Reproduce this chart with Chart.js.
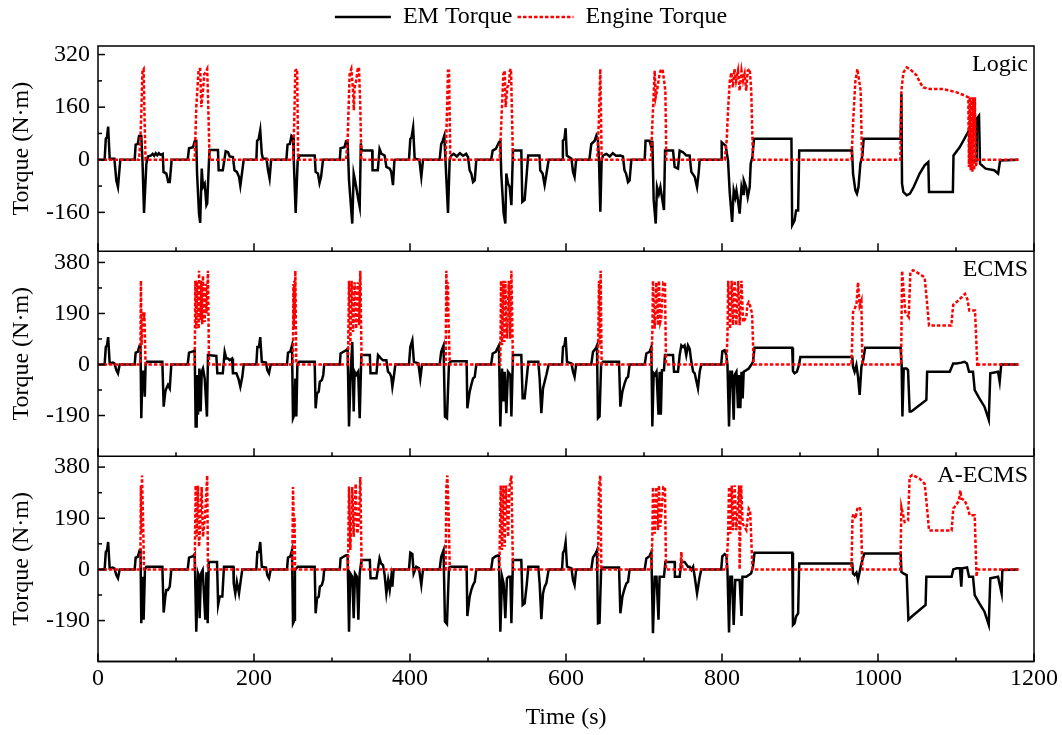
<!DOCTYPE html>
<html>
<head>
<meta charset="utf-8">
<script src="https://cdn.jsdelivr.net/npm/chart.js@4.4.1/dist/chart.umd.min.js"></script>
<style>
    html, body { margin: 0; padding: 0; background: #fff; }
    #wrap { width: 1062px; height: 735px; }
</style>
</head>
<body>
<div id="wrap"><canvas id="chart" width="1062" height="735"></canvas></div>
<script>
// Axis ticks and labels
const timeTicks = [0, 200, 400, 600, 800, 1000, 1200];
const logicTicks = [-160, 0, 160, 320];
const ecmsTicks = [-190, 0, 190, 380];
const panelNames = ['Logic', 'ECMS', 'A-ECMS'];
const seriesNames = ['EM Torque', 'Engine Torque'];

// Logic strategy: [time s, torque N·m]
const logicEm = [
    [0,0],[8.5,0],[10,64],[11.5,69],[13,101],[15,3],[21,3],[23.5,-63],[25.6,-83],[28.6,0],
    [47,0],[48.3,46],[51,48],[52.6,72],[55.5,72],[57,-2],[59,-162],[62,-12],[64,10],[68,13],[70,18],[72,12],[74,20],[76,14],[78,20],[80,15],[83,18],[84,-37],[87.6,-42],[90,-68],[92,-68],[94.4,0],
    [115,0],[116.7,35],[121.8,38],[124,56],[126,57],[127,-42],[129.5,-164],[131,-192],[133,-27],[134.6,-83],[136.8,-73],[139,-138],[140,-133],[142.3,-2],[143,30],[153.8,30],[154.7,-32],[160,-32],[163.7,26],[166.7,23],[168.8,10],[173,8],[175,-32],[178,-37],[180.8,-52],[182.5,-79],[184,-52],[186.8,0],
    [203,0],[204,58],[206,63],[208,90],[210,18],[211.5,3],[216,3],[218,-32],[220,-57],[222,0],
    [241.5,0],[243,46],[246,48],[248,73],[250,68],[251,-2],[253.4,-162],[256,-2],[258.5,13],[277.8,13],[279,-37],[282,-42],[284,-71],[286,-52],[288.5,0],
    [310,0],[311,35],[316,38],[318,56],[320,56],[321.8,-62],[326,-194],[327.8,-42],[329.5,-62],[331,-83],[333.8,-122],[335.5,-143],[337,50],[338,28],[351.5,28],[352,-32],[358.7,-32],[361,33],[363.5,18],[367.5,13],[369.7,-22],[374,-27],[376,-37],[378.2,-77],[380,-2],[381,0],
    [398.7,0],[400.4,63],[402,68],[404,98],[406,3],[412,0],[414.5,-52],[416.7,0],
    [438,0],[440,48],[442,58],[444,73],[445.5,-2],[448.7,-162],[450.9,3],[453,13],[456,18],[460,10],[464,20],[468,12],[472,18],[474.4,8],[476.5,-32],[478.6,-42],[480.8,-68],[483,-63],[485,0],
    [504,0],[506,28],[510,33],[514,53],[515.8,58],[517,-42],[520,-162],[522.2,-194],[523.5,-42],[525.6,-72],[527.8,-83],[530,-138],[532,28],[542.7,28],[544,-128],[547,-122],[550,-32],[551.5,13],[566,13],[567,-32],[570,-42],[572.6,-77],[575,-42],[577.8,0],
    [594.9,0],[596,58],[598,63],[599.5,96],[601,13],[607,3],[609,-37],[611,-52],[613,0],
    [630,0],[632.4,48],[636.8,58],[638.9,73],[641,58],[642.3,-2],[644,-158],[645.7,-2],[647.4,13],[652,18],[656,10],[660,20],[664,12],[670,13],[673,10],[675,-32],[677,-42],[679.5,-68],[681.5,-63],[683.8,0],
    [700.9,0],[702,58],[707,58],[709.4,38],[710.7,58],[712.4,-122],[715,-194],[716.7,-83],[719,-104],[721,-83],[723,-114],[725.6,-153],[727,28],[737.2,28],[739.3,-22],[743.6,-27],[745.7,28],[750,23],[754.2,13],[758.5,13],[760.7,-37],[765,-52],[768,-83],[770,-42],[771.4,0],
    [799,0],[799.6,53],[802,48],[804.7,43],[807.7,-2],[810,-103],[813,-189],[815,-93],[817,-114],[818.5,-93],[820.5,-124],[822.6,-164],[825,-83],[827,-104],[828,-63],[831,-83],[833,-114],[835.5,-83],[836.8,-12],[839,8],[841,64],
    [889,64],[890,-199],[893,-185],[895,-154],[897.6,-154],[899,28],[966.7,28],[968,-42],[971,-93],[973,-103],[975,-83],[977.4,-12],[980,13],[981.6,64],
    [1029,64],[1030,200],[1030.8,-73],[1032.5,-98],[1036.8,-108],[1041,-103],[1045.7,-83],[1053.4,-42],[1059.8,-17],[1064.5,-7],[1065.4,-98],[1096,-98],[1096.8,13],[1104.7,38],[1115.4,84],[1116.6,99],[1118,-2],[1125.8,-2],[1126.5,124],[1129.5,134],[1130.8,-12],[1138,-27],[1149,-32],[1154,-42],[1156.6,-2],[1180,0]
];
const logicEngine = [
    [0,0],[52.6,0],[54.3,58],[55.6,150],[57,271],[58.5,276],[59.8,110],[61,0],
    [124,0],[126,160],[129,276],[131,276],[132.5,160],[134.6,210],[136.3,261],[138,266],[140,276],[141.4,160],[143,0],
    [250,0],[251.5,110],[253,271],[255.3,276],[256.6,0],
    [318,0],[320,58],[322.6,261],[324.8,276],[327,210],[328,150],[329,220],[331,240],[333,276],[334.5,281],[336.3,160],[337.6,0],
    [445.7,0],[447,110],[448.7,271],[450,271],[451.7,0],
    [515,0],[517,110],[519.7,261],[521.5,271],[522.6,160],[524.8,220],[527,230],[528,271],[529.5,276],[532,0],
    [640,0],[642,110],[644,276],[645.7,0],
    [709,0],[710.7,110],[713.7,271],[715,190],[716.7,210],[720,261],[722,276],[724,271],[727.4,210],[728.6,0],
    [803.4,0],[806,58],[807.7,150],[810,240],[812,265],[814,220],[816,276],[818,240],[820.5,271],[822.6,210],[825,271],[827,240],[829,261],[831,210],[833,271],[835.5,276],[837.5,210],[839.7,0],
    [966,0],[968,110],[971,240],[973.6,276],[976.5,230],[977.8,210],[979.5,0],
    [1028.6,0],[1030,210],[1032.5,265],[1036.8,281],[1041,276],[1045.3,266],[1049.6,256],[1053.8,235],[1058,220],[1066.7,215],[1083.8,215],[1092.3,210],[1100.9,205],[1111.5,195],[1115.8,190],
    [1116.6,-22],[1117.5,190],[1118.8,-32],[1119.7,190],[1121,-37],[1122,190],[1123.3,-32],[1124.2,190],[1125.5,-22],[1126.9,0],[1180,0]
];

// ECMS strategy
const ecmsEm = [
    [0,0],[8.5,0],[10,65],[11.5,71],[13,102],[15,4],[19,7],[21,4],[23.5,-21],[25.6,-33],[27.8,0],
    [47,0],[48.3,44],[51,47],[53.4,71],[54.5,71],[55.5,-200],[57,-27],[58.5,-27],[60,-120],[61,0],[62.8,10],[82.5,10],[84.2,-157],[86.3,-101],[87.6,-89],[89.7,-76],[92,-89],[94,0],
    [115,0],[116.7,44],[121.8,49],[124,53],[125.2,-231],[126.5,-231],[127,-39],[128.2,-187],[130,-15],[131.6,-175],[133,-27],[134.6,-15],[136.8,-52],[139.7,-194],[141,35],[151.7,32],[153,-33],[160,-33],[162.4,47],[164.5,22],[166.7,22],[168.8,16],[171.8,22],[173,-33],[177.4,-33],[180,-52],[182.5,-83],[185,-46],[186.8,0],
    [203,0],[204.3,65],[206.4,65],[208,102],[210,10],[215.4,7],[217,-21],[219.2,-33],[221.4,0],
    [242.3,0],[243.6,44],[246.6,49],[248.7,71],[250,-200],[251.7,-187],[253,-52],[254.3,-194],[255.6,0],[257.7,10],[277.8,10],[279,-163],[280.8,-107],[283,-101],[284.4,-64],[287,-58],[288.8,-39],[290,0],
    [310,0],[311,41],[318,53],[320,59],[321.8,-231],[324,-27],[326,84],[327.8,-175],[329,-27],[331,-39],[333.5,-27],[335.5,-200],[337.6,35],[348.5,35],[349.4,-33],[357,-33],[359,35],[363,22],[365.4,16],[369.7,16],[371.8,-27],[374,-33],[376,-46],[377.4,-83],[379,-52],[381.2,0],
    [398.7,0],[400.4,65],[403,90],[405,10],[410.7,4],[413.2,-52],[415.4,0],
    [438,0],[440,47],[443,71],[444.8,-194],[447.4,-200],[450,4],[453,12],[472.6,12],[473.5,-163],[476.5,-101],[478.6,-76],[480.8,-52],[483,-46],[485,0],
    [504,0],[506,41],[510,47],[514,71],[515.8,-231],[518,-15],[520,-138],[521.4,-27],[523.5,-181],[525.6,-27],[528.6,-39],[530,-194],[532,35],[542.7,35],[544.4,-126],[547,-126],[549.6,-52],[551.7,10],[564.5,10],[566.2,-52],[568.4,-181],[570.5,-89],[572.6,-64],[574.8,-39],[577.8,0],
    [594.9,0],[596.2,65],[598,71],[599.5,102],[601.3,10],[607,4],[609,-27],[611,-46],[613,0],
    [632.4,0],[634.6,47],[638,59],[639.7,71],[641,-200],[643,-194],[645,0],[647.4,10],[668,10],[669.7,-157],[672.3,-101],[675.2,-70],[677.4,-52],[679.5,-46],[681.6,0],
    [700.9,0],[703,41],[707,47],[709.4,65],[710.7,-231],[712.4,-33],[714,-39],[716,-27],[718.6,-187],[720,-27],[721.6,-187],[723,-21],[725.6,-21],[726.9,35],[737.2,35],[738.5,-27],[743.6,-27],[745.7,35],[747.9,71],[750,65],[752,71],[754.2,35],[756.4,71],[758.5,59],[760.7,10],[763,-27],[765,-33],[769.2,-89],[771.4,-27],[773.5,0],
    [799,0],[800.4,49],[803.4,53],[805.6,35],[807,0],[809,-231],[810.7,-27],[812.8,-27],[815,-206],[816.2,-39],[818.5,-27],[820.5,-163],[822,-39],[823.5,-163],[825,-27],[826.5,-126],[827.8,-27],[831.2,-21],[834.3,-15],[837.3,-2],[839.7,10],[841.7,62],
    [890,62],[891,-25],[893,-33],[896,-27],[898.7,-2],[900.4,28],[967,28],[968,-9],[970,-27],[972.3,-2],[974.4,-46],[976.5,-113],[978.7,-9],[981,16],[983.5,62],
    [1029,62],[1030.3,-2],[1031.3,-194],[1033,-15],[1036.5,-15],[1038.5,-21],[1040.6,-175],[1042.7,-175],[1062,-132],[1063,-27],[1092,-27],[1096.4,4],[1100.6,4],[1106.8,7],[1111,10],[1114,4],[1116.7,-27],[1121.8,-27],[1124,-95],[1130,-126],[1136.5,-157],[1142,-206],[1144,-33],[1153.9,-27],[1156,-64],[1158,0],[1180,0]
];
const ecmsEngine = [
    [0,0],[54.3,0],[55,312],[55.8,72],[57.7,195],[59,182],[59.4,195],[61,0],
    [124,0],[124.8,312],[126,133],[127,300],[128.2,294],[129,133],[129.5,349],[130.5,170],[131.6,170],[132.5,312],[133.5,150],[134.6,331],[135.5,190],[136.8,158],[138,300],[139,190],[141,349],[142.3,0],
    [250,0],[250.5,300],[251,133],[251.6,312],[252.3,170],[253,349],[253.6,160],[254.3,0],
    [320.5,0],[321.8,312],[323.5,72],[325.2,312],[327,121],[329,306],[331,133],[333,306],[334.8,146],[336.3,349],[338,0],
    [445.7,0],[446.6,349],[447.5,195],[448.5,306],[449.5,150],[451,0],
    [515.8,0],[516.7,312],[518,72],[519.7,312],[521,84],[522.2,312],[524.3,96],[526.7,312],[528.3,96],[530,349],[532,0],
    [641,0],[642.3,312],[643.5,72],[644.4,349],[645.7,0],
    [709.4,0],[710.7,121],[711.5,312],[713.7,133],[715.8,306],[717.9,146],[719.2,312],[720.9,158],[722,170],[724.8,306],[726.9,306],[728.2,0],
    [805.6,0],[807,108],[808,312],[810.3,133],[812.4,312],[814.1,146],[816.2,312],[818.3,146],[820.8,312],[822.6,146],[825,312],[827,158],[831.2,176],[832.5,222],[834.3,232],[836,219],[838.6,189],[840.6,0],
    [966,0],[968,195],[970,207],[972.4,226],[974.4,306],[976.5,219],[978.7,238],[980,0],
    [1029.6,0],[1030.9,349],[1035,195],[1039.4,176],[1041.5,343],[1045,351],[1053.4,337],[1059.8,324],[1062.8,232],[1065.4,145],[1094,145],[1096.4,222],[1102.8,238],[1111.5,263],[1114.5,244],[1117,201],[1124.4,201],[1127.4,-9],[1128.5,0],[1180,0]
];

// A-ECMS strategy
const aecmsEm = [
    [0,0],[8.5,0],[10,65],[11.5,71],[13,102],[15,4],[19,7],[21,4],[23.5,-21],[25.6,-33],[27.8,0],
    [47,0],[48.3,44],[51,47],[53.4,71],[54.5,71],[55.5,-200],[57,-27],[58.5,-187],[60.2,0],[62,10],[82.5,10],[84.2,-160],[86.3,-101],[87.6,-76],[89.7,-76],[92,-64],[94,0],
    [115,0],[116.7,44],[121.8,49],[124,57],[126,-231],[128.2,-15],[129.5,-27],[130.3,-181],[132,-15],[134.2,-2],[137.6,-187],[139,-15],[140.2,-15],[140.6,-200],[142,28],[152.6,28],[154,-132],[156,-101],[159.4,-101],[161.5,10],[173.5,10],[174,-52],[176,-89],[178,-46],[180.8,-89],[182.5,-52],[185,0],
    [203,0],[204.3,65],[206.4,65],[208,102],[210,10],[215.4,7],[217,-21],[219.2,-33],[221.4,0],
    [242.3,0],[243.6,44],[246.6,49],[248.7,71],[250,-200],[252,-187],[252.5,-2],[256,10],[277.8,10],[279,-163],[280.8,-107],[283,-101],[284.4,-64],[287,-58],[288.8,-39],[290,0],
    [310,0],[311,41],[318,53],[320,53],[321.8,-231],[323.5,-15],[326,-27],[327.8,-181],[329.5,-15],[332,-27],[333.8,-187],[335.5,-15],[337.2,22],[337.6,35],[348.5,35],[349.4,-33],[357,-33],[361,41],[363,22],[365.4,16],[367.5,-21],[369.7,-89],[372,-39],[374,-76],[376,-27],[377.4,-64],[379,0],
    [398.7,0],[400.4,62],[403,57],[404.7,-15],[408,10],[411.5,4],[414.5,-58],[416.7,0],
    [438,0],[440,47],[443,71],[444.8,-194],[447.4,-203],[450,7],[453,10],[472.6,10],[473.5,-173],[476.5,-101],[478.6,-76],[480.8,-58],[483,-46],[485,0],
    [504,0],[506,41],[510,49],[514,53],[515.8,-231],[518,-27],[520,-52],[522.2,-181],[524.3,-33],[526.5,-27],[528.6,-27],[530,-200],[532,35],[542.7,35],[544.4,-132],[547,-126],[549.6,-58],[551.7,10],[564.5,10],[566.2,-52],[568.4,-185],[570.5,-89],[572.6,-64],[574.8,-52],[577.8,0],
    [594.9,0],[596.2,62],[598,71],[599.5,100],[601.3,10],[607,4],[609,-39],[611,-58],[613,0],
    [632.4,0],[634.6,44],[638,59],[639.7,71],[641,-200],[643,-198],[645,-2],[647.4,7],[668,7],[669.7,-163],[672.3,-101],[675.2,-70],[677.4,-52],[679.5,-46],[681.6,0],
    [700.9,0],[703,41],[707,49],[709.4,65],[711.5,-237],[713.7,-27],[716,-27],[718.6,-187],[720,-27],[721.6,-27],[725.6,-27],[727.4,28],[739.3,28],[739.6,-27],[745.7,-27],[747.9,28],[752,28],[756.4,10],[758.5,10],[760.7,-2],[763,10],[765,-27],[768,-89],[769.2,-89],[771.4,-27],[773.5,0],
    [799,0],[800.4,49],[803.4,57],[805.6,53],[807,-2],[809,-234],[810.7,-27],[812.8,-27],[815,-206],[817,-39],[822.6,-39],[825,-173],[826.2,-27],[831.2,-27],[834.3,-21],[837.3,-15],[839.7,10],[841.7,62],
    [890,62],[891,-206],[893,-200],[895,-175],[897.6,-163],[899,22],[967,22],[968,-15],[970,-21],[972.4,-12],[974.4,-39],[976.5,-9],[978.7,22],[982.5,59],
    [1029.1,59],[1030,-9],[1032.5,-15],[1036.8,-21],[1039,-187],[1043.3,-175],[1061,-132],[1062,-27],[1094.4,-27],[1096.5,0],[1100.9,4],[1105,4],[1106.8,-64],[1108,4],[1114.2,7],[1116.7,-27],[1121.8,-27],[1124,-95],[1130,-126],[1136.5,-157],[1142,-206],[1144,-33],[1153.9,-27],[1158.5,-89],[1159.4,-2],[1180,0]
];
const aecmsEngine = [
    [0,0],[54.3,0],[55,312],[55.8,133],[56.4,349],[57.7,195],[59,0],
    [124,0],[125.2,312],[126.5,121],[128.2,312],[129.5,84],[130.8,146],[132.9,306],[134.6,121],[137.2,195],[140,349],[141,0],
    [249,0],[250,306],[251.3,133],[252,195],[252.6,0],
    [320.5,0],[321.8,308],[323.5,72],[326,306],[327.8,121],[330.3,318],[332.5,133],[334.5,182],[336.3,343],[338,0],
    [445.7,0],[446.6,306],[447.9,349],[449.6,195],[451,0],
    [514.5,0],[516.3,312],[518,72],[519.7,312],[521.4,84],[523.1,312],[525.8,121],[527.5,306],[530,349],[532,0],
    [641,0],[642.3,306],[644,349],[645.3,0],
    [709.4,0],[710.7,121],[711.5,306],[713.7,133],[715.8,306],[717.9,146],[719.2,312],[720.9,158],[724.8,306],[726.9,306],[728.2,0],
    [746.6,0],[747.9,65],[749.2,0],
    [805.6,0],[807.7,115],[809,306],[810.7,133],[812.4,312],[814.1,146],[816.2,312],[818.3,146],[822,312],[822.6,0],[824.5,312],[826.5,170],[831.2,146],[834.3,226],[836,219],[837.3,133],[839,0],
    [966,0],[967.3,195],[969,207],[971,189],[973.6,226],[976,232],[977.8,219],[980,0],
    [1028.6,0],[1030,232],[1034.2,176],[1038.5,182],[1040.6,343],[1044,351],[1053.4,337],[1059.8,318],[1062.8,232],[1065.4,145],[1094.4,145],[1096.5,226],[1100,238],[1103.8,257],[1105.6,293],[1106.8,263],[1111,257],[1115.4,226],[1117.5,201],[1124,201],[1126.3,-27],[1127.5,0],[1180,0]
];

const FONT = "'Liberation Serif', 'Times New Roman', serif";
Chart.defaults.font.family = FONT;
Chart.defaults.font.size = 24;
Chart.defaults.color = '#000';

// panels top to bottom
const panels = [
    { axis: 'y1', ticks: logicTicks, min: -278, max: 346, em: logicEm, engine: logicEngine },
    { axis: 'y2', ticks: ecmsTicks, min: -342, max: 422, em: ecmsEm, engine: ecmsEngine },
    { axis: 'y3', ticks: ecmsTicks, min: -342, max: 420, em: aecmsEm, engine: aecmsEngine }
];

function makeLine(label, data, axis, isEngine) {
    return {
        label: label,
        data: data,
        yAxisID: axis,
        borderColor: isEngine ? '#ff0000' : '#000000',
        backgroundColor: isEngine ? '#ff0000' : '#000000',
        borderWidth: 2.5,
        borderDash: isEngine ? [3.5, 2] : [],
        pointRadius: 0,
        pointStyle: 'line',
        tension: 0,
        fill: false,
        order: isEngine ? 0 : 1
    };
}

const datasets = [];
panels.forEach(p => {
    datasets.push(makeLine(seriesNames[0], p.em, p.axis, false));
    datasets.push(makeLine(seriesNames[1], p.engine, p.axis, true));
});

function yScale(p) {
    return {
        type: 'linear',
        position: 'left',
        stack: 'panels',
        stackWeight: 1,
        min: p.min,
        max: p.max,
        grid: { display: false, drawTicks: false },
        border: { display: false },
        afterBuildTicks: s => { s.ticks = p.ticks.map(v => ({ value: v })); },
        afterFit: s => { s.width = 98; },
        ticks: { padding: 8, font: { size: 24 }, callback: v => String(v) },
        title: { display: true, text: 'Torque (N·m)', font: { size: 24 }, padding: { top: 7, bottom: 0 } }
    };
}

const scales = {
    x: {
        type: 'linear',
        position: 'bottom',
        min: 0,
        max: 1200,
        grid: { display: false, drawTicks: false },
        border: { display: false },
        afterBuildTicks: s => { s.ticks = timeTicks.map(v => ({ value: v })); },
        afterFit: s => { s.height = 73.5; },
        ticks: { padding: 3, maxRotation: 0, font: { size: 24 }, callback: v => String(v) },
        title: { display: true, text: 'Time (s)', font: { size: 24 }, padding: { top: 0, bottom: 3 } }
    },
    // bottom panel first: stacked boxes are placed from the last one downwards
    y3: yScale(panels[2]),
    y2: yScale(panels[1]),
    y1: yScale(panels[0]),
    yR: {
        type: 'linear',
        position: 'right',
        display: true,
        grid: { display: false, drawTicks: false },
        border: { display: false },
        ticks: { display: false },
        afterFit: s => { s.width = 28; }
    }
};

// fixed legend band height
const legendBand = {
    id: 'legendBand',
    beforeLayout(chart) {
        const lg = chart.legend;
        if (lg && !lg._banded) {
            const fit = lg.fit.bind(lg);
            lg.fit = function () { fit(); this.height = 46; };
            lg._banded = true;
        }
    }
};

// frame, inward ticks and panel names
const framePlugin = {
    id: 'frame',
    afterDatasetsDraw(chart) {
        const { ctx, chartArea: a, scales: sc } = chart;
        const x = sc.x;
        const line = (x1, y1, x2, y2) => {
            ctx.beginPath();
            ctx.moveTo(x1, y1);
            ctx.lineTo(x2, y2);
            ctx.stroke();
        };
        ctx.save();
        ctx.strokeStyle = '#000';
        ctx.lineWidth = 1.5;
        ctx.strokeRect(a.left, a.top, a.right - a.left, a.bottom - a.top);
        panels.forEach((p, i) => {
            const y = sc[p.axis];
            line(a.left, y.bottom, a.right, y.bottom);
            timeTicks.forEach((t, k) => {
                const px = x.getPixelForValue(t);
                line(px, y.bottom, px, y.bottom - 8);
                if (k < timeTicks.length - 1) {
                    const mx = x.getPixelForValue((t + timeTicks[k + 1]) / 2);
                    line(mx, y.bottom, mx, y.bottom - 4);
                }
            });
            p.ticks.forEach((v, k) => {
                const py = y.getPixelForValue(v);
                line(a.left, py, a.left + 7, py);
                if (k < p.ticks.length - 1) {
                    const my = y.getPixelForValue((v + p.ticks[k + 1]) / 2);
                    line(a.left, my, a.left + 4, my);
                }
            });
            ctx.fillStyle = '#000';
            ctx.font = '24px ' + FONT;
            ctx.textAlign = 'right';
            ctx.textBaseline = 'middle';
            ctx.fillText(panelNames[i], a.right - 6, y.top + 19);
        });
        ctx.restore();
    }
};

new Chart(document.getElementById('chart'), {
    type: 'line',
    data: { datasets: datasets },
    options: {
        responsive: false,
        devicePixelRatio: 1,
        animation: false,
        layout: { padding: 0 },
        scales: scales,
        plugins: {
            legend: {
                display: true,
                position: 'top',
                labels: {
                    usePointStyle: true,
                    pointStyleWidth: 56,
                    boxHeight: 10,
                    padding: 5,
                    font: { size: 24 },
                    color: '#000',
                    generateLabels: chart => {
                        const items = Chart.defaults.plugins.legend.labels.generateLabels(chart);
                        return items
                            .filter(item => item.datasetIndex < 2)
                            .sort((a, b) => a.datasetIndex - b.datasetIndex)
                            .map(item => {
                                const ds = chart.data.datasets[item.datasetIndex];
                                item.lineWidth = ds.borderWidth;
                                item.lineDash = ds.borderDash;
                                item.strokeStyle = ds.borderColor;
                                return item;
                            });
                    }
                }
            },
            tooltip: { enabled: false }
        }
    },
    plugins: [legendBand, framePlugin]
});
</script>
</body>
</html>
